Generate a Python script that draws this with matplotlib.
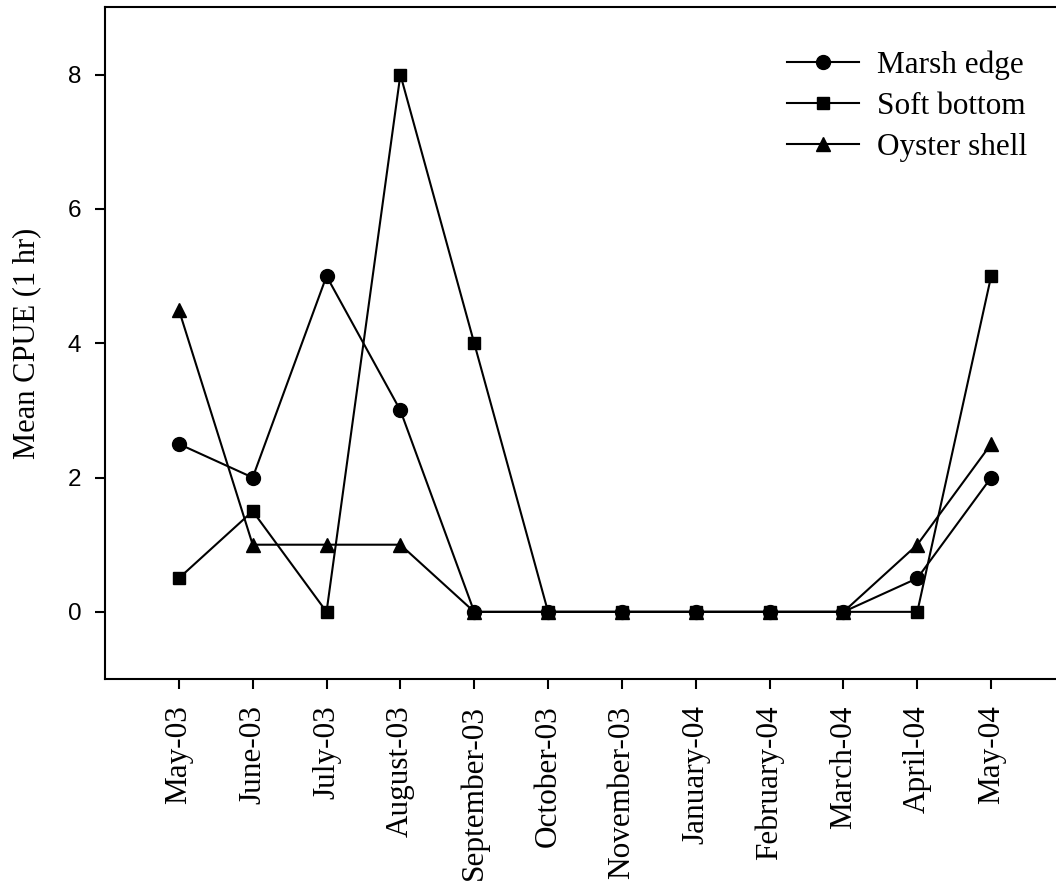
import matplotlib.pyplot as plt

months = [
    "May-03", "June-03", "July-03", "August-03", "September-03", "October-03",
    "November-03", "January-04", "February-04", "March-04", "April-04", "May-04",
]
marsh_edge = [2.5, 2, 5, 3, 0, 0, 0, 0, 0, 0, 0.5, 2]
soft_bottom = [0.5, 1.5, 0, 8, 4, 0, 0, 0, 0, 0, 0, 5]
oyster_shell = [4.5, 1, 1, 1, 0, 0, 0, 0, 0, 0, 1, 2.5]

SERIF = "Liberation Serif"
SANS = "Liberation Sans"

fig = plt.figure(figsize=(10.56, 8.88), dpi=100)
ax = fig.add_axes([105 / 1056, 209 / 888, 960 / 1056, 671.5 / 888])

x = range(len(months))
ax.plot(x, marsh_edge, "-o", color="black", lw=1.5, ms=10, label="Marsh edge")
ax.plot(x, soft_bottom, "-s", color="black", lw=1.5, ms=9, label="Soft bottom")
ax.plot(x, oyster_shell, "-^", color="black", lw=1.5, ms=10, label="Oyster shell")

ax.set_xlim(-1, 12)
ax.set_ylim(-1, 9)
ax.set_yticks([0, 2, 4, 6, 8])
ax.set_xticks(list(x))
ax.set_xticklabels(months, rotation=90, fontsize=22.5, family=SERIF)
for lbl in ax.get_yticklabels():
    lbl.set_family(SANS)
    lbl.set_fontsize(17.5)

ax.tick_params(axis="both", direction="out", length=7, width=1.5, color="black")
ax.tick_params(axis="x", pad=12)
ax.tick_params(axis="y", pad=10)
for sp in ax.spines.values():
    sp.set_linewidth(1.5)

ax.set_ylabel("Mean CPUE (1 hr)", fontsize=22, family=SERIF, labelpad=19)

ax.legend(
    frameon=False,
    loc="upper right",
    bbox_to_anchor=(1040 / 1056, 1 - 38 / 888),
    bbox_transform=fig.transFigure,
    prop={"family": SERIF, "size": 22.5},
    handlelength=2.3,
    handletextpad=0.6,
    labelspacing=0.38,
    borderaxespad=0,
)

fig.savefig("out.png", dpi=100)
